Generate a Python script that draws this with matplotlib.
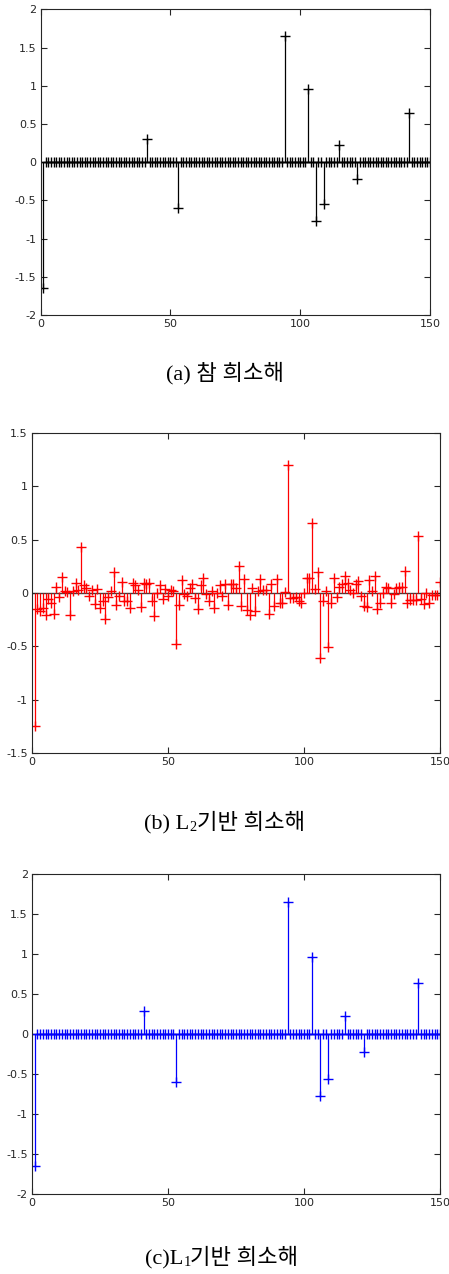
import numpy as np
import matplotlib
matplotlib.use('Agg')
import matplotlib.pyplot as plt

# sample index 1..150
n = np.arange(1, 151)

# (a) true sparse solution: nonzero positions and values
true_idx = [1, 41, 53, 94, 103, 106, 109, 115, 122, 142]
true_vals = [-1.65, 0.30, -0.60, 1.65, 0.96, -0.77, -0.55, 0.23, -0.22, 0.64]

# (b) L2 solution
l2_vals = [
    -1.25, -0.15, -0.17, -0.14, -0.21, -0.06, -0.09, -0.20, 0.06, -0.04,
    0.15, 0.02, 0.01, -0.21, 0.02, 0.09, 0.03, 0.43, 0.07, 0.05,
    -0.03, 0.03, -0.10, 0.04, -0.14, -0.08, -0.24, -0.04, 0.02, 0.20,
    -0.11, -0.03, 0.10, -0.08, -0.08, -0.14, 0.09, 0.07, 0.03, -0.13,
    0.09, 0.08, 0.09, -0.08, -0.22, 0.00, 0.07, -0.06, 0.04, -0.03,
    0.03, 0.02, -0.48, -0.11, 0.12, -0.01, -0.03, 0.05, 0.08, -0.05,
    -0.15, 0.07, 0.14, -0.01, -0.08, 0.02, -0.14, 0.00, 0.07, -0.03,
    0.08, -0.11, 0.08, 0.08, 0.05, 0.25, -0.12, 0.13, -0.16, -0.21,
    0.05, -0.17, 0.02, 0.13, 0.03, 0.03, -0.20, 0.08, -0.12, 0.13,
    -0.09, -0.09, 0.01, 1.20, -0.05, -0.05, -0.04, -0.08, -0.09, 0.00,
    0.14, 0.14, 0.66, 0.04, 0.20, -0.61, -0.08, 0.02, -0.51, -0.09,
    0.14, -0.04, 0.06, 0.08, 0.16, 0.09, 0.03, 0.00, 0.08, 0.11,
    -0.03, -0.12, -0.13, 0.12, 0.02, 0.16, -0.15, -0.09, 0.00, 0.06,
    0.05, -0.09, -0.01, 0.05, 0.06, 0.06, 0.21, -0.09, -0.07, -0.07,
    -0.07, 0.53, -0.06, -0.10, 0.00, -0.09, -0.02, -0.02, -0.02, 0.10,
]

# (c) L1 solution: nonzero positions and values
l1_idx = [1, 41, 53, 94, 103, 106, 109, 115, 122, 142]
l1_vals = [-1.65, 0.29, -0.60, 1.65, 0.96, -0.77, -0.56, 0.23, -0.22, 0.64]

xticks = [0, 50, 100, 150]
yticks_ac = [-2, -1.5, -1, -0.5, 0, 0.5, 1, 1.5, 2]
yticks_b = [-1.5, -1, -0.5, 0, 0.5, 1, 1.5]

# captions as (text, is_subscript) pieces
captions = [
    [('(a) 참 희소해', False)],
    [('(b) L', False), ('2', True), ('기반 희소해', False)],
    [('(c)L', False), ('1', True), ('기반 희소해', False)],
]


def sparse_vec(idx, vals):
    v = np.zeros(len(n))
    for i, val in zip(idx, vals):
        v[i - 1] = val
    return v


def stem_panel(ax, y, color, yticks):
    ml, sl, bl = ax.stem(n, y, linefmt='-', markerfmt='+', basefmt=' ')
    plt.setp(sl, color=color, linewidth=0.9)
    plt.setp(ml, color=color, markersize=7.5, markeredgewidth=1.0)
    ax.axhline(0, color='#404040', linewidth=1.0, zorder=1)
    ax.set_xlim(0, 150)
    ax.set_ylim(yticks[0], yticks[-1])
    ax.set_xticks(xticks)
    ax.set_xticklabels([str(t) for t in xticks])
    ax.set_yticks(yticks)
    ax.set_yticklabels(['%g' % t for t in yticks])
    ax.tick_params(direction='in', top=True, right=True, length=4,
                   width=0.8, labelsize=8, colors='#262626', pad=3)
    for s in ax.spines.values():
        s.set_color('#262626')
        s.set_linewidth(0.8)


def caption(fig, xc, yc, pieces, size=16):
    fam = ['Liberation Serif', 'Noto Sans CJK KR', 'DejaVu Serif']
    r = fig.canvas.get_renderer()
    W = fig.bbox.width
    H = fig.bbox.height
    txts = []
    for s, sub in pieces:
        t = fig.text(0, 0, s, fontsize=size * 0.65 if sub else size,
                     family=fam, va='baseline', ha='left')
        txts.append((t, sub))
    widths = [t.get_window_extent(r).width for t, _ in txts]
    x = xc * W - sum(widths) / 2
    for (t, sub), w in zip(txts, widths):
        dy = -size * 0.12 if sub else 0
        t.set_position((x / W, (yc * H + dy) / H))
        x += w


fig = plt.figure(figsize=(4.49, 12.74), dpi=100)

ax_a = fig.add_axes([0.0906, 0.7527, 0.8671, 0.2400])
ax_b = fig.add_axes([0.0713, 0.4090, 0.9087, 0.2512])
ax_c = fig.add_axes([0.0713, 0.0628, 0.9087, 0.2512])

stem_panel(ax_a, sparse_vec(true_idx, true_vals), 'black', yticks_ac)
stem_panel(ax_b, np.array(l2_vals), 'red', yticks_b)
stem_panel(ax_c, sparse_vec(l1_idx, l1_vals), 'blue', yticks_ac)

# baseline y of each caption in figure fraction
for (x, y), pieces in zip([(0.5, 0.702), (0.5, 0.349), (0.494, 0.0075)], captions):
    caption(fig, x, y, pieces)

fig.savefig('out.png', dpi=100)
